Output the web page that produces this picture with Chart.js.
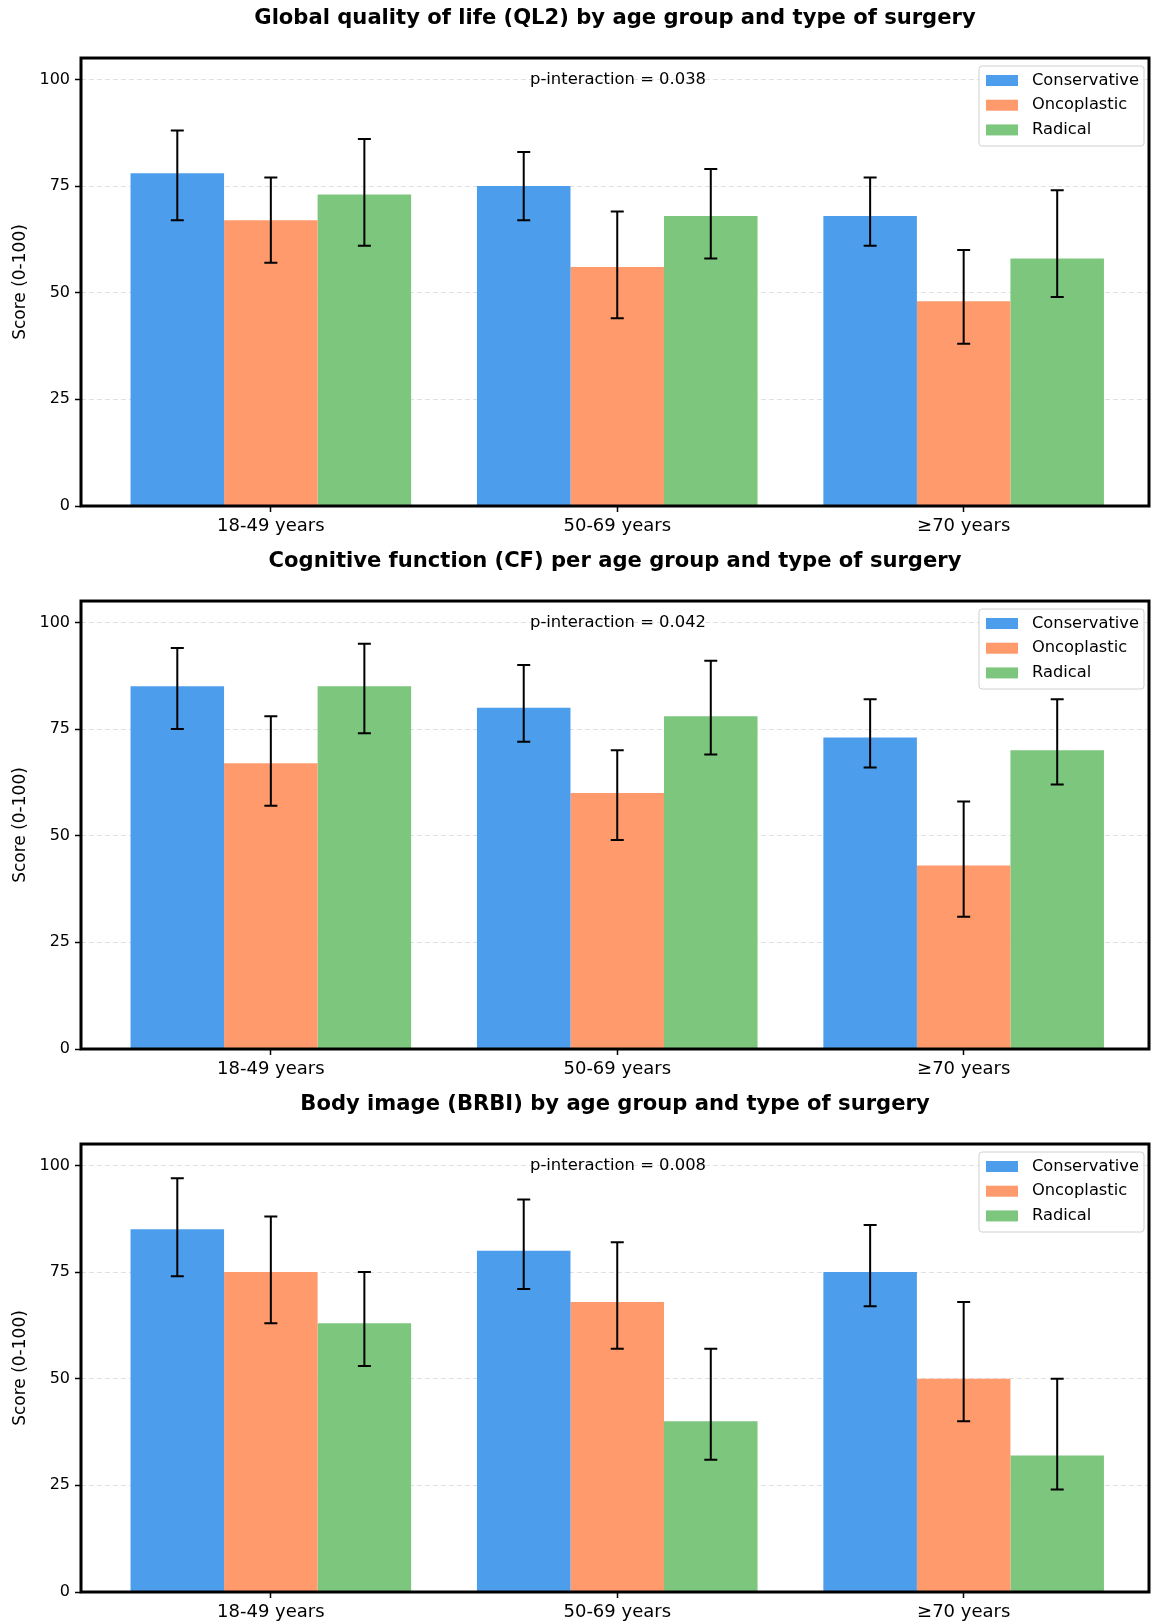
<!DOCTYPE html>
<html>
<head>
<meta charset="utf-8">
<script src="https://cdn.jsdelivr.net/npm/chart.js@4.4.1/dist/chart.umd.min.js"></script>
<style>
  html, body { margin: 0; padding: 0; background: #fff; }
  canvas { display: block; }
</style>
</head>
<body>
<div id="charts"></div>
<script>
const age_groups = ['18-49 years', '50-69 years', '≥70 years']
const surgery_types = ['Conservative', 'Oncoplastic', 'Radical']
const y_ticks = [0, 25, 50, 75, 100]

const panel_titles = [
    'Global quality of life (QL2) by age group and type of surgery',
    'Cognitive function (CF) per age group and type of surgery',
    'Body image (BRBI) by age group and type of surgery',
]
const p_interaction = ['0.038', '0.042', '0.008']

// rows: Conservative, Oncoplastic, Radical; columns: age groups
const ql2_means = [[78, 75, 68], [67, 56, 48], [73, 68, 58]]
const ql2_low = [[67, 67, 61], [57, 44, 38], [61, 58, 49]]
const ql2_high = [[88, 83, 77], [77, 69, 60], [86, 79, 74]]

const cf_means = [[85, 80, 73], [67, 60, 43], [85, 78, 70]]
const cf_low = [[75, 72, 66], [57, 49, 31], [74, 69, 62]]
const cf_high = [[94, 90, 82], [78, 70, 58], [95, 91, 82]]

const brbi_means = [[85, 80, 75], [75, 68, 50], [63, 40, 32]]
const brbi_low = [[74, 71, 67], [63, 57, 40], [53, 31, 24]]
const brbi_high = [[97, 92, 86], [88, 82, 68], [75, 57, 50]]

const bar_colors = ['#4C9DEB', '#FF9A6C', '#7DC67D']
const font_family = '"DejaVu Sans", sans-serif'

const error_bars = {
    id: 'error_bars',
    afterDatasetsDraw(chart, args, opts) {
        const ctx = chart.ctx
        const y = chart.scales.y
        ctx.save()
        ctx.strokeStyle = '#000'
        ctx.lineWidth = 2
        chart.data.datasets.forEach((ds, i) => {
            chart.getDatasetMeta(i).data.forEach((bar, j) => {
                const top = y.getPixelForValue(opts.high[i][j])
                const bottom = y.getPixelForValue(opts.low[i][j])
                ctx.beginPath()
                ctx.moveTo(bar.x, top)
                ctx.lineTo(bar.x, bottom)
                ctx.moveTo(bar.x - 6.5, top)
                ctx.lineTo(bar.x + 6.5, top)
                ctx.moveTo(bar.x - 6.5, bottom)
                ctx.lineTo(bar.x + 6.5, bottom)
                ctx.stroke()
            })
        })
        ctx.restore()
    }
}

const annotation = {
    id: 'annotation',
    afterDatasetsDraw(chart, args, opts) {
        const ctx = chart.ctx
        const area = chart.chartArea
        ctx.save()
        ctx.fillStyle = '#000'
        ctx.font = '16.4px ' + font_family
        ctx.textAlign = 'center'
        ctx.textBaseline = 'middle'
        ctx.fillText(opts.text, (area.left + area.right) / 2 + 3, chart.scales.y.getPixelForValue(100))
        ctx.restore()
    }
}

const legend_box = {
    id: 'legend_box',
    afterDraw(chart) {
        const ctx = chart.ctx
        const area = chart.chartArea
        const datasets = chart.data.datasets
        ctx.save()
        ctx.font = '16.3px ' + font_family
        const text_w = Math.max(...datasets.map(d => ctx.measureText(d.label).width))
        const w = 53 + text_w + 5
        const h = 80
        const x = area.right - 5 - w
        const y = area.top + 8
        ctx.beginPath()
        ctx.roundRect(x, y, w, h, 3)
        ctx.fillStyle = 'rgba(255,255,255,0.85)'
        ctx.fill()
        ctx.strokeStyle = '#d0d0d0'
        ctx.lineWidth = 1
        ctx.stroke()
        ctx.textBaseline = 'middle'
        datasets.forEach((d, i) => {
            const cy = y + 14.5 + i * 24.7
            ctx.fillStyle = d.backgroundColor
            ctx.fillRect(x + 7, cy - 5.5, 32, 11)
            ctx.fillStyle = '#000'
            ctx.fillText(d.label, x + 53, cy)
        })
        ctx.restore()
    }
}

const frame = {
    id: 'frame',
    afterDatasetsDraw(chart) {
        const ctx = chart.ctx
        const a = chart.chartArea
        ctx.save()
        ctx.strokeStyle = '#000'
        ctx.lineWidth = 3
        ctx.strokeRect(a.left, a.top, a.right - a.left, a.bottom - a.top)
        ctx.restore()
    }
}

function make_panel(title, means, low, high, p_text, height) {
    const canvas = document.createElement('canvas')
    canvas.width = 1151
    canvas.height = height
    canvas.style.width = '1151px'
    canvas.style.height = height + 'px'
    document.querySelector('#charts').appendChild(canvas)

    return new Chart(canvas, {
        type: 'bar',
        data: {
            datasets: surgery_types.map((name, i) => ({
                label: name,
                data: means[i].map((v, j) => ({ x: j, y: v })),
                backgroundColor: bar_colors[i],
                borderWidth: 0,
                categoryPercentage: 0.81,
                barPercentage: 1.0,
            })),
        },
        options: {
            responsive: false,
            animation: false,
            devicePixelRatio: 1,
            layout: { padding: { left: 0, right: 2, top: 0, bottom: 0 } },
            plugins: {
                legend: { display: false },
                tooltip: { enabled: false },
                title: {
                    display: true,
                    text: title,
                    fullSize: false,
                    color: '#000',
                    font: { family: font_family, size: 21.1, weight: 'bold' },
                    padding: { top: 6.3, bottom: 26.4 },
                },
                error_bars: { low: low, high: high },
                annotation: { text: 'p-interaction = ' + p_text },
            },
            scales: {
                x: {
                    type: 'linear',
                    min: -0.548,
                    max: 2.535,
                    offset: false,
                    afterBuildTicks: (s) => { s.ticks = age_groups.map((_, i) => ({ value: i })) },
                    afterFit: (s) => { s.height = height - 506 },
                    grid: {
                        display: true,
                        offset: false,
                        drawOnChartArea: false,
                        drawTicks: true,
                        tickLength: 6,
                        tickColor: '#000',
                        tickWidth: 1.5,
                    },
                    border: { display: false },
                    ticks: {
                        color: '#000',
                        font: { family: font_family, size: 18 },
                        padding: 4,
                        maxRotation: 0,
                        autoSkip: false,
                        callback: (v) => age_groups[v],
                    },
                },
                y: {
                    min: 0,
                    max: 105,
                    afterBuildTicks: (s) => { s.ticks = y_ticks.map(v => ({ value: v })) },
                    afterFit: (s) => { s.width = 81 },
                    grid: {
                        color: 'rgba(0,0,0,0.12)',
                        lineWidth: 1,
                        tickColor: '#000',
                        tickLength: 6,
                        tickWidth: 1.5,
                    },
                    border: { display: false, dash: [5, 3] },
                    ticks: {
                        color: '#000',
                        font: { family: font_family, size: 16 },
                        padding: 5,
                    },
                    title: {
                        display: true,
                        text: 'Score (0-100)',
                        color: '#000',
                        font: { family: font_family, size: 17 },
                        padding: { top: 10, bottom: 0 },
                    },
                },
            },
        },
        plugins: [error_bars, annotation, frame, legend_box],
    })
}

make_panel(panel_titles[0], ql2_means, ql2_low, ql2_high, p_interaction[0], 543)
make_panel(panel_titles[1], cf_means, cf_low, cf_high, p_interaction[1], 543)
make_panel(panel_titles[2], brbi_means, brbi_low, brbi_high, p_interaction[2], 536)
</script>
</body>
</html>
